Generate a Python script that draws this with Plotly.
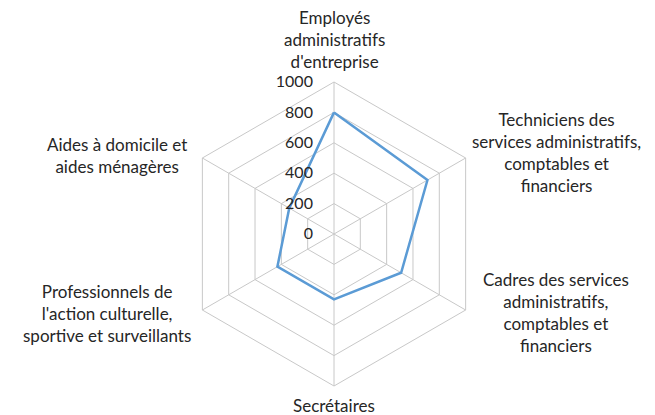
import plotly.graph_objects as go

categories = [
    "Employés<br>administratifs<br>d'entreprise",
    "Techniciens des<br>services administratifs,<br>comptables et<br>financiers",
    "Cadres des services<br>administratifs,<br>comptables et<br>financiers",
    "Secrétaires",
    "Professionnels de<br>l'action culturelle,<br>sportive et surveillants",
    "Aides à domicile et<br>aides ménagères",
]
values = [800, 710, 510, 430, 430, 340]
tick_vals = [0, 200, 400, 600, 800, 1000]

# the page body has an 8px margin, so the figure is drawn 8px smaller
OFF = 8
W, H = 655 - OFF, 415 - OFF
cx, cy, R = 334, 234, 152

def px(x):
    return (x - OFF) / W

def py(y):
    return 1 - (y - OFF) / H

fig = go.Figure(go.Scatterpolar(
    r=values + values[:1],
    theta=categories + categories[:1],
    mode="lines",
    line=dict(color="#5B9BD5", width=2.5),
    hoverinfo="skip",
))

# category labels, centred text like the original
label_pos = [(334, 40), (556, 152), (556, 312), (334, 405), (107, 313), (117, 155)]
for text, (x, y) in zip(categories, label_pos):
    fig.add_annotation(
        x=px(x), y=py(y), xref="paper", yref="paper",
        text=text, showarrow=False, align="center",
        xanchor="center", yanchor="middle",
        font=dict(size=17, color="#262626"),
    )

grid = "#C8C8C8"
fig.update_layout(
    width=W, height=H,
    margin=dict(l=0, r=0, t=0, b=0),
    paper_bgcolor="white",
    showlegend=False,
    font=dict(family="Lato, Open Sans, sans-serif", size=15, color="#262626"),
    polar=dict(
        bgcolor="white",
        gridshape="linear",
        domain=dict(x=[px(cx - R), px(cx + R)], y=[py(cy + R), py(cy - R)]),
        angularaxis=dict(
            rotation=90, direction="clockwise",
            showline=True, linecolor=grid, linewidth=1,
            gridcolor=grid, gridwidth=1, ticks="", showticklabels=False,
        ),
        radialaxis=dict(
            range=[0, 1000], tickvals=tick_vals, angle=90, tickangle=90,
            showline=False, ticks="outside", ticklen=15, tickcolor="rgba(0,0,0,0)",
            gridcolor=grid, gridwidth=1,
            tickfont=dict(size=16, color="#262626"), side="counterclockwise",
        ),
    ),
)

fig.write_html("out.html")
